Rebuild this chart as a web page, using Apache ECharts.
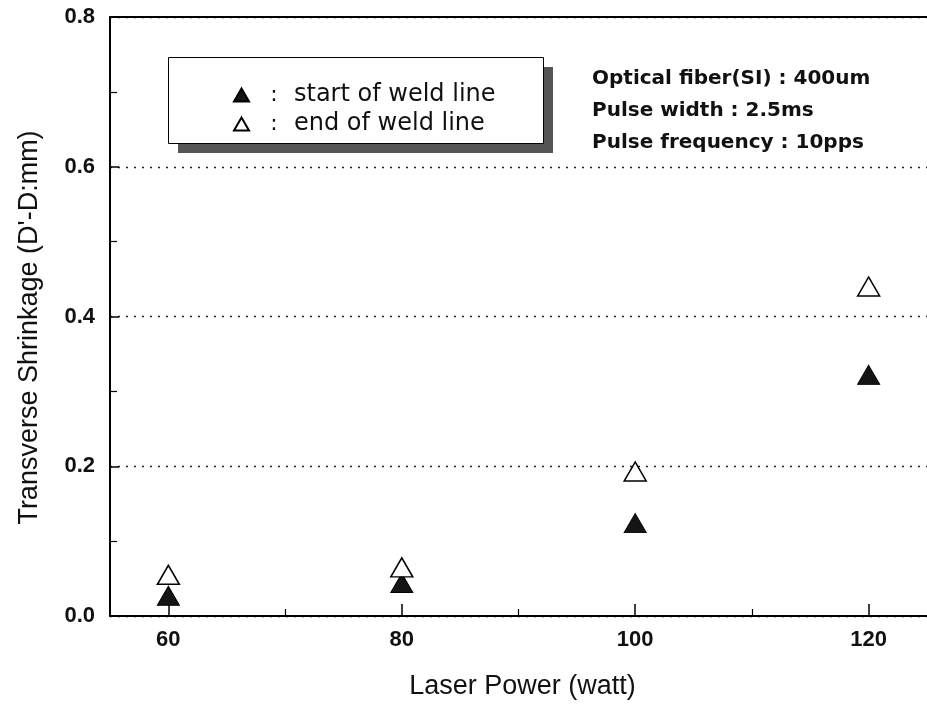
<!DOCTYPE html>
<html>
<head>
<meta charset="utf-8">
<script src="https://cdn.jsdelivr.net/npm/echarts@6/dist/echarts.min.js"></script>
<style>html,body{margin:0;padding:0;background:#fff;}#c{width:927px;height:708px;}</style>
</head>
<body>
<div id="c"></div>
<script>
const laserPower = [60, 80, 100, 120];
const startOfWeld = [0.027, 0.044, 0.124, 0.322];
const endOfWeld = [0.055, 0.065, 0.193, 0.440];
const xTickValues = [60, 80, 100, 120];
const xMinorTickValues = [70, 90, 110];
const seriesNames = ['start of weld line', 'end of weld line'];
const notes = ['Optical fiber(SI) : 400um', 'Pulse width : 2.5ms', 'Pulse frequency : 10pps'];

const chart = echarts.init(document.getElementById('c'));
const font = 'Liberation Sans, Arial, sans-serif';
const gridBox = {left: 110, top: 17, width: 822, height: 599};

const option = {
  backgroundColor: '#fff',
  animation: false,
  grid: gridBox,
  xAxis: [
    {
      type: 'value', min: 55, max: 125, position: 'bottom',
      name: 'Laser Power (watt)', nameLocation: 'middle', nameGap: 57,
      nameTextStyle: {fontFamily: font, fontSize: 27, color: '#111', padding: [0, 0, 0, 8]},
      axisLine: {show: true, lineStyle: {color: '#000', width: 2}},
      axisTick: {show: true, inside: true, length: 12, customValues: xTickValues, lineStyle: {color: '#000', width: 1.5}},
      axisLabel: {customValues: xTickValues, margin: 13, fontFamily: font, fontWeight: 'bold', fontSize: 22, color: '#111'},
      splitLine: {show: false}
    },
    {
      type: 'value', min: 55, max: 125, position: 'bottom', gridIndex: 0,
      axisLine: {show: false},
      axisTick: {show: true, inside: true, length: 7, customValues: xMinorTickValues, lineStyle: {color: '#000', width: 1.2}},
      axisLabel: {show: false},
      splitLine: {show: false}
    },
    {
      type: 'value', min: 55, max: 125, position: 'top', gridIndex: 0,
      axisLine: {show: true, lineStyle: {color: '#000', width: 2}},
      axisTick: {show: false}, axisLabel: {show: false}, splitLine: {show: false}
    }
  ],
  yAxis: {
    type: 'value', min: 0, max: 0.8, interval: 0.2,
    name: "Transverse Shrinkage (D'-D:mm)", nameLocation: 'middle', nameGap: 67,
    nameTextStyle: {fontFamily: font, fontSize: 27, color: '#111', padding: [0, 22, 0, 0]},
    axisLine: {show: true, lineStyle: {color: '#000', width: 2}},
    axisTick: {show: true, inside: true, length: 9, lineStyle: {color: '#000', width: 1.5}},
    minorTick: {show: true, splitNumber: 2, length: 7, lineStyle: {color: '#000', width: 1.2}},
    axisLabel: {margin: 15, fontFamily: font, fontWeight: 'bold', fontSize: 22, color: '#111', formatter: v => v.toFixed(1)},
    splitLine: {show: true, lineStyle: {type: [2, 6], color: '#222', width: 1.3}}
  },
  legend: {
    orient: 'vertical', left: 228, top: 78, itemGap: 5,
    itemWidth: 15, itemHeight: 13, icon: 'triangle',
    data: seriesNames,
    formatter: name => '{c|:}{t|' + name + '}',
    textStyle: {
      fontFamily: '"DejaVu Sans", sans-serif', fontSize: 24, color: '#111',
      rich: {
        c: {width: 40, align: 'center', fontSize: 22, fontFamily: '"DejaVu Sans", sans-serif', color: '#111'},
        t: {fontSize: 24, fontFamily: '"DejaVu Sans", sans-serif', color: '#111'}
      }
    }
  },
  graphic: [
    {type: 'rect', left: 178, top: 67, z: 0, shape: {width: 375, height: 86}, style: {fill: '#555'}},
    {type: 'rect', left: 168, top: 57, z: 1, shape: {width: 375, height: 86}, style: {fill: '#fff', stroke: '#000', lineWidth: 1}},
    {type: 'text', left: 592, top: 69, z: 5, style: {text: notes[0], font: 'bold 20px "DejaVu Sans", sans-serif', fill: '#111'}},
    {type: 'text', left: 592, top: 101, z: 5, style: {text: notes[1], font: 'bold 20px "DejaVu Sans", sans-serif', fill: '#111'}},
    {type: 'text', left: 592, top: 133, z: 5, style: {text: notes[2], font: 'bold 20px "DejaVu Sans", sans-serif', fill: '#111'}}
  ],
  series: [
    {
      name: seriesNames[0], type: 'scatter', symbol: 'triangle', symbolSize: [22, 19],
      itemStyle: {color: '#151515', borderColor: '#000', borderWidth: 1, opacity: 1},
      data: laserPower.map((p, i) => [p, startOfWeld[i]]), z: 3
    },
    {
      name: seriesNames[1], type: 'scatter', symbol: 'triangle', symbolSize: [22, 19],
      itemStyle: {color: '#fff', borderColor: '#000', borderWidth: 1.5, opacity: 1},
      data: laserPower.map((p, i) => [p, endOfWeld[i]]), z: 4
    }
  ]
};
chart.setOption(option);
</script>
</body>
</html>
